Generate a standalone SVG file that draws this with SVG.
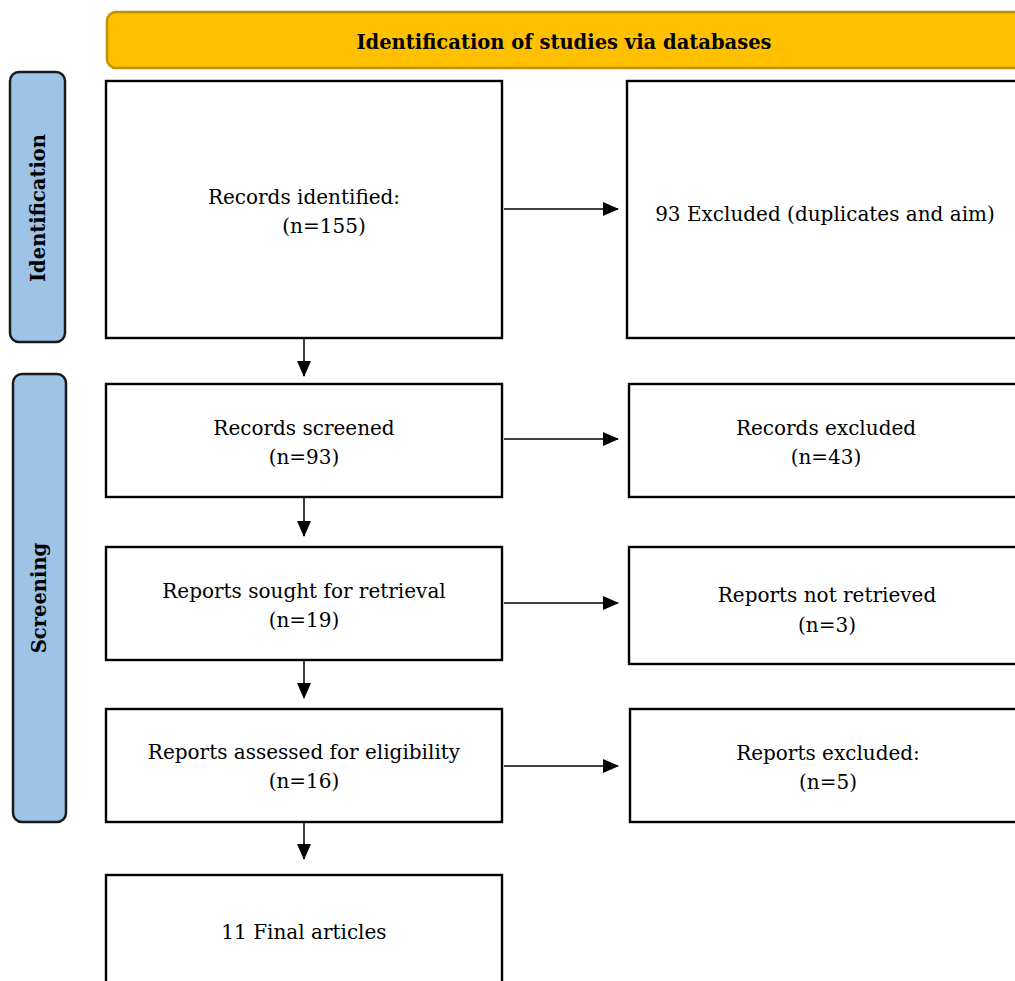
<svg xmlns="http://www.w3.org/2000/svg" width="1015" height="981" viewBox="0 0 1015 981">
<defs>
<marker id="ah" markerWidth="16" markerHeight="14" refX="15" refY="7" orient="auto" markerUnits="userSpaceOnUse">
<path d="M0,0 L16,7 L0,14 Z" fill="#000"/>
</marker>
<style>
.box{fill:#fff;stroke:#000;stroke-width:2.4}
.side{fill:#9DC3E6;stroke:#1a1a1a;stroke-width:2.5}
.hdr{fill:#FFC000;stroke:#BF9000;stroke-width:2.5}
.t{font-family:"DejaVu Serif","Liberation Serif",serif;font-size:20px;fill:#000;text-anchor:middle}
.b{font-family:"DejaVu Serif","Liberation Serif",serif;font-size:19.5px;font-weight:bold;fill:#000;text-anchor:middle}
.c{stroke:#000;stroke-width:1.5;fill:none;marker-end:url(#ah)}
</style>
</defs>
<rect width="1015" height="981" fill="#fff"/>
<g id="header">
<rect class="hdr" x="107" y="12" width="930" height="56" rx="9"/>
<text class="b" x="564" y="49">Identification of studies via databases</text>
</g>
<g id="phase-identification">
<rect class="side" x="10" y="72" width="55" height="270" rx="9"/>
<text class="b" transform="translate(45,208) rotate(-90)">Identification</text>
</g>
<g id="phase-screening">
<rect class="side" x="13" y="374" width="53" height="448" rx="9"/>
<text class="b" transform="translate(46,598) rotate(-90)">Screening</text>
</g>
<g id="n-identified">
<rect class="box" x="106" y="81" width="396" height="257"/>
<text class="t" x="304" y="204">Records identified:</text>
<text class="t" x="324" y="233">(n=155)</text>
</g>
<g id="n-excluded-dup">
<rect class="box" x="627" y="81" width="400" height="257"/>
<text class="t" x="825" y="221">93 Excluded (duplicates and aim)</text>
</g>
<g id="n-screened">
<rect class="box" x="106" y="384" width="396" height="113"/>
<text class="t" x="304" y="435">Records screened</text>
<text class="t" x="304" y="464">(n=93)</text>
</g>
<g id="n-rec-excluded">
<rect class="box" x="629" y="384" width="400" height="113"/>
<text class="t" x="826" y="435">Records excluded</text>
<text class="t" x="826" y="464">(n=43)</text>
</g>
<g id="n-sought">
<rect class="box" x="106" y="547" width="396" height="113"/>
<text class="t" x="304" y="598">Reports sought for retrieval</text>
<text class="t" x="304" y="627">(n=19)</text>
</g>
<g id="n-not-retrieved">
<rect class="box" x="629" y="547" width="400" height="117"/>
<text class="t" x="827" y="602">Reports not retrieved</text>
<text class="t" x="827" y="632">(n=3)</text>
</g>
<g id="n-assessed">
<rect class="box" x="106" y="709" width="396" height="113"/>
<text class="t" x="304" y="759">Reports assessed for eligibility</text>
<text class="t" x="304" y="788">(n=16)</text>
</g>
<g id="n-rep-excluded">
<rect class="box" x="630" y="709" width="400" height="113"/>
<text class="t" x="828" y="760">Reports excluded:</text>
<text class="t" x="828" y="789">(n=5)</text>
</g>
<g id="n-final">
<rect class="box" x="106" y="875" width="396" height="120"/>
<text class="t" x="304" y="939">11 Final articles</text>
</g>
<g id="connectors">
<line class="c" x1="504" y1="209" x2="618" y2="209"/>
<line class="c" x1="504" y1="439" x2="618" y2="439"/>
<line class="c" x1="504" y1="603" x2="618" y2="603"/>
<line class="c" x1="504" y1="766" x2="618" y2="766"/>
<line class="c" x1="304" y1="338" x2="304" y2="376"/>
<line class="c" x1="304" y1="497" x2="304" y2="536"/>
<line class="c" x1="304" y1="660" x2="304" y2="698"/>
<line class="c" x1="304" y1="822" x2="304" y2="859"/>
</g>
</svg>
